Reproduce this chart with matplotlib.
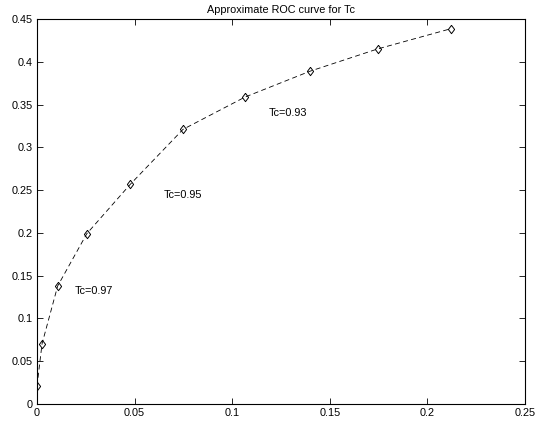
import matplotlib
matplotlib.use("Agg")
import matplotlib.pyplot as plt

plt.rcParams["font.family"] = ["Liberation Sans", "DejaVu Sans"]

# false alarm rate vs detection rate
pfa = [0.0, 0.0026, 0.0106, 0.0255, 0.0478, 0.0748, 0.1066, 0.1399, 0.1745, 0.2121]
pd_ = [0.021, 0.0705, 0.138, 0.199, 0.2568, 0.321, 0.3588, 0.389, 0.415, 0.4387]

labels = ["Tc=0.97", "Tc=0.95", "Tc=0.93"]
label_x = [0.0195, 0.065, 0.1185]
label_y = [0.132, 0.244, 0.340]

# matlab-ish diamond, a bit wider than matplotlib's thin 'd'
diamond = [(0, 1), (0.75, 0), (0, -1), (-0.75, 0), (0, 1)]

fig = plt.figure(figsize=(5.47, 4.23), dpi=100)
ax = fig.add_axes([37 / 547, 1 - 404 / 423, (525 - 37) / 547, (404 - 19) / 423])

ax.plot(pfa, pd_, linestyle=(0, (6, 4)), color="black", linewidth=0.6,
        marker=diamond, markersize=6, markerfacecolor="none",
        markeredgecolor="black", markeredgewidth=0.7)

for t, x, y in zip(labels, label_x, label_y):
    ax.text(x, y, t, fontsize=7.8, va="center", ha="left")

ax.set_xlim(0, 0.25)
ax.set_ylim(0, 0.45)
ax.set_xticks([0, 0.05, 0.1, 0.15, 0.2, 0.25])
ax.set_xticklabels(["0", "0.05", "0.1", "0.15", "0.2", "0.25"])
ax.set_yticks([0, 0.05, 0.1, 0.15, 0.2, 0.25, 0.3, 0.35, 0.4, 0.45])
ax.set_yticklabels(["0", "0.05", "0.1", "0.15", "0.2", "0.25", "0.3", "0.35", "0.4", "0.45"])
ax.tick_params(direction="in", top=True, right=True, labelsize=7.8, length=4, width=0.6, pad=3)
for s in ax.spines.values():
    s.set_linewidth(0.8)

ax.set_title("Approximate ROC curve for Tc", fontsize=7.8, pad=4)

fig.savefig("out.png", dpi=100)
